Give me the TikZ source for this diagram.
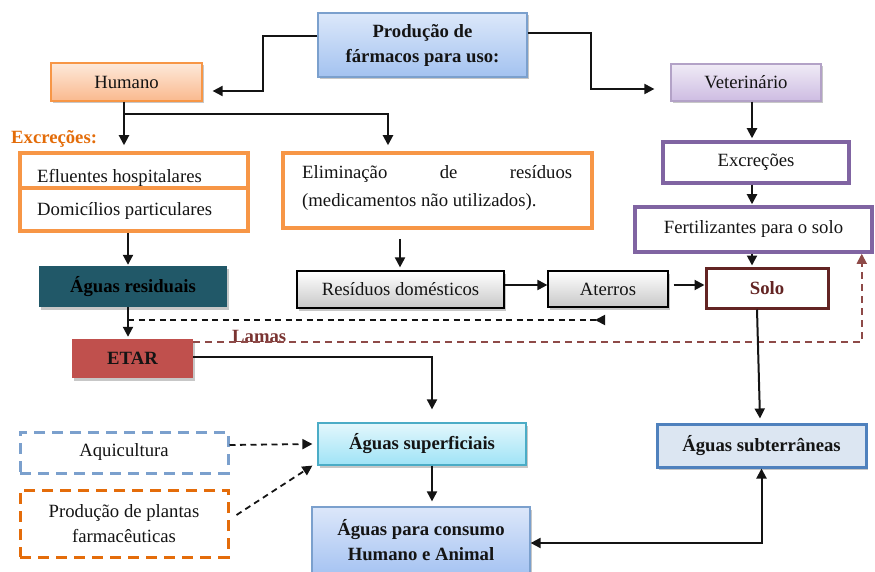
\documentclass[tikz,border=0pt]{standalone}
\usepackage{fontspec}
\setmainfont{Liberation Serif}
\usetikzlibrary{arrows.meta,shadows,calc}
\definecolor{cblue}{HTML}{4F81BD}
\definecolor{cblueL}{HTML}{7BA0CD}
\definecolor{corange}{HTML}{F79646}
\definecolor{cdorange}{HTML}{E46C0A}
\definecolor{cpurple}{HTML}{8064A2}
\definecolor{cpurpleL}{HTML}{B3A2C7}
\definecolor{csolo}{HTML}{632423}
\definecolor{cteal}{HTML}{215868}
\definecolor{cetar}{HTML}{C0504D}
\definecolor{ccyan}{HTML}{4BACC6}
\definecolor{cexc}{HTML}{E36C09}
\definecolor{lamline}{HTML}{8E4A48}
\definecolor{lamtxt}{HTML}{7A3432}
\definecolor{subfill}{HTML}{DCE6F2}
\definecolor{grayb}{HTML}{C8C8C8}
\definecolor{prodtop}{HTML}{DCE8FA}
\definecolor{prodbot}{HTML}{A3C2F0}
\definecolor{humtop}{HTML}{FDE9DA}
\definecolor{humbot}{HTML}{FAB98E}
\definecolor{vettop}{HTML}{F0EBF6}
\definecolor{vetbot}{HTML}{CDBCE2}
\definecolor{suptop}{HTML}{E3F7FC}
\definecolor{supbot}{HTML}{9FE3F6}
\definecolor{constop}{HTML}{DCE7FA}
\definecolor{consbot}{HTML}{A7C4F2}
\begin{document}
\begin{tikzpicture}[x=1pt,y=-1pt,
  every node/.style={font=\fontsize{18.7}{25}\selectfont, text=black!92, inner sep=0pt},
  sz/.style 2 args={minimum width=#1pt, minimum height=#2pt},
  shd/.style={drop shadow={shadow xshift=2pt,shadow yshift=-2.5pt,fill=black,opacity=0.22}},
  arr/.style={-{Triangle[length=10pt,width=10pt]}, line width=2pt, draw=black!92},
  darr/.style={arr, dash pattern=on 6pt off 4.5pt, line width=1.8pt},
  lam/.style={-{Triangle[length=10pt,width=10pt]}, line width=1.8pt, draw=lamline, dash pattern=on 7pt off 5pt},
  b/.style={font=\fontsize{18.7}{25}\selectfont\bfseries},
  thinbox/.style={line width=1.2pt},
  thickbox/.style={line width=3.5pt, fill=white}
]
\useasboundingbox (0,0) rectangle (875,572);

% top row
\node[shd, thinbox, draw=cblueL, top color=prodtop, bottom color=prodbot, sz={209}{64}, align=center, b] (prod) at (422.5,45) {Produção de\\fármacos para uso:};
\node[shd, thinbox, draw=corange, top color=humtop, bottom color=humbot, sz={151}{38}] (hum) at (126.5,82) {Humano};
\node[shd, thinbox, draw=cpurpleL, top color=vettop, bottom color=vetbot, sz={150}{37}] (vet) at (746,82.5) {Veterinário};

% right column
\node[thickbox, draw=cpurple, sz={186}{41}] (exc) at (756,162.5) {Excreções};
\node[thickbox, draw=cpurple, sz={237}{45}] (fert) at (753.5,229.5) {Fertilizantes para o solo};
\node[line width=3pt, fill=white, draw=csolo, sz={122}{40}, b, text=csolo] (solo) at (767,288) {Solo};

% left column
\node[anchor=base west, b, text=cexc] (exclab) at (11,144) {Excreções:};
\node[thickbox, draw=corange, sz={228}{35}] (eflu) at (134,170.5) {};
\node[anchor=base west] (efluT) at (37,183) {Efluentes hospitalares};
\node[thickbox, draw=corange, sz={228}{43}] (dom) at (134,209.5) {};
\node[anchor=base west] (domT) at (37,215) {Domicílios particulares};
\node[shd, fill=cteal, sz={188}{41}, b, text=black] (agres) at (133,286.5) {Águas residuais};
\node[shd, fill=cetar, sz={121}{39}, b] (etar) at (132.5,358.5) {ETAR};

% middle
\node[thickbox, draw=corange, sz={309}{75}] (elim) at (437.5,190.5) {};
\node[anchor=base west] (elimA) at (302,179) {\makebox[270pt][s]{Eliminação\hfill de\hfill resíduos}};
\node[anchor=base west] (elimB) at (302,207) {(medicamentos não utilizados).};
\node[shd, thinbox, draw=black, top color=white, bottom color=grayb, sz={207}{37}] (resd) at (400.5,289.5) {Resíduos domésticos};
\node[shd, thinbox, draw=black, top color=white, bottom color=grayb, sz={120}{36}] (ater) at (608,289) {Aterros};

% bottom
\node[shd, thinbox, draw=ccyan, top color=suptop, bottom color=supbot, sz={208}{42}, b] (agsup) at (422,444) {Águas superficiais};
\node[line width=3pt, draw=cblueL, dash pattern=on 11pt off 7pt, sz={208}{41}] (aqui) at (124,452.5) {Aquicultura};
\node[line width=3pt, draw=cdorange, dash pattern=on 11pt off 7pt, sz={208}{67}, align=center] (plant) at (124,523.5) {Produção de plantas\\farmacêuticas};
\node[shd, thinbox, draw=cblueL, top color=constop, bottom color=consbot, sz={218}{66}, b, align=center] (agcons) at (421,540) {Águas para consumo\\Humano e Animal};
\node[shd, line width=3pt, draw=cblue, fill=subfill, sz={209}{43}, b] (agsub) at (761.5,445.5) {Águas subterrâneas};

\node[anchor=base west, b, text=lamtxt] (lamas) at (232,342) {Lamas};

% connectors
\draw[arr] ([yshift=9pt]prod.west) -- ++(-54,0) |- ([shift={(10,9)}]hum.east);
\draw[arr] ([yshift=12pt]prod.east) -- ++(63,0) |- ([shift={(-16,6.5)}]vet.west);
\draw[arr] ([xshift=6pt]vet.south) -- ([shift={(-4,-2)}]exc.north);
\draw[arr] ([xshift=-4pt]exc.south) -- ([shift={(-1.5,-1)}]fert.north);
\draw[arr] ([xshift=-1.5pt]fert.south) -- ([shift={(-15,-1)}]solo.north);
\draw[arr] ([xshift=-2.5pt]hum.south) -- ([shift={(-10,-6)}]eflu.north);
\draw[arr] ([shift={(-2.5,12)}]hum.south) -| ([shift={(-49.5,-6)}]elim.north);
\draw[arr] ([xshift=-6pt]dom.south) -- ([shift={(-5,-1)}]agres.north);
\draw[arr] ([xshift=-5pt]agres.south) -- ([shift={(-4.5,-2)}]etar.north);
\draw[arr] ([shift={(-37.5,9)}]elim.south) -- ([shift={(-0.5,-3)}]resd.north);
\draw[arr] ([yshift=4.5pt]resd.east) -- ([yshift=4pt]ater.west);
\draw[arr] ([shift={(5,-4)}]ater.east) -- ([yshift=3pt]solo.west);
\coordinate (dj) at (128,320);
\coordinate (dk) at (605,320);
\draw[darr, -{Triangle[length=10pt,width=10pt,reversed]}] (dj) -- (dk);
\draw[lam] ([yshift=16.5pt]etar.east) -| ([xshift=-12pt]fert.south east);
\draw[arr] ([yshift=1.5pt]etar.east) -| ([shift={(10,-13)}]agsup.north);
\draw[darr] ([yshift=7.5pt]aqui.east) -- ([xshift=-5pt]agsup.west);
\draw[darr] ([shift={(7,-8.5)}]plant.east) -- ([shift={(-5,0)}]agsup.south west);
\draw[arr] ([xshift=10pt]agsup.south) -- ([shift={(11,-5)}]agcons.north);
\draw[arr] ([xshift=-10pt]solo.south) -- ([shift={(-1.5,-4)}]agsub.north);
\draw[arr, {Triangle[length=10pt,width=10pt]}-{Triangle[length=10pt,width=10pt]}] ([yshift=-3pt]agcons.east) -| (agsub.south);
\end{tikzpicture}
\end{document}
